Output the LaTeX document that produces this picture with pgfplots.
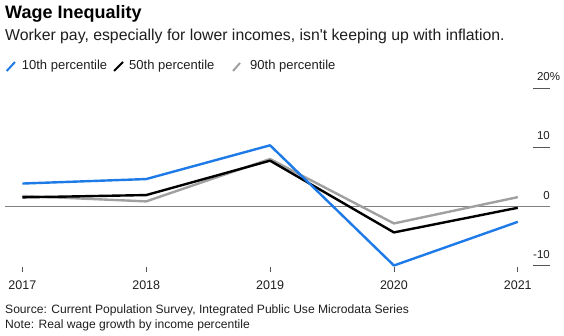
\documentclass[border=0pt]{standalone}
\usepackage{pgfplots}
\pgfplotsset{compat=1.18}
\usepackage{fontspec}
\setmainfont{Liberation Sans}
\definecolor{bblue}{RGB}{30,122,230}
\definecolor{bgray}{RGB}{160,160,160}
\definecolor{zline}{RGB}{128,128,128}
\definecolor{gline}{RGB}{85,85,85}
\definecolor{txt}{RGB}{30,30,30}
\begin{document}
\begin{tikzpicture}
\path[use as bounding box] (0pt,0pt) rectangle (564pt,336pt);
% titles
\node[anchor=base west,inner sep=0pt,font=\fontsize{18}{20}\selectfont\bfseries,text=black] at (5pt,317.5pt) {Wage Inequality};
\node[anchor=base west,inner sep=0pt,font=\fontsize{15.8}{18}\selectfont,text=txt] at (5pt,295pt) {Worker pay, especially for lower incomes, isn\textquotesingle t keeping up with inflation.};
% legend
\draw[bblue,line width=2pt] (6.7pt,265pt) -- (15pt,274pt);
\node[anchor=base west,inner sep=0pt,font=\fontsize{13}{15}\selectfont,text=txt] at (21.7pt,266pt) {10th percentile};
\draw[black,line width=2pt] (114pt,265pt) -- (123pt,274pt);
\node[anchor=base west,inner sep=0pt,font=\fontsize{13}{15}\selectfont,text=txt] at (129pt,266pt) {50th percentile};
\draw[bgray,line width=2pt] (233pt,265pt) -- (240pt,273pt);
\node[anchor=base west,inner sep=0pt,font=\fontsize{13}{15}\selectfont,text=txt] at (250pt,266pt) {90th percentile};
% footnotes
\node[anchor=base west,inner sep=0pt,font=\fontsize{12.1}{14}\selectfont,text=txt] at (5pt,22pt) {Source: Current Population Survey, Integrated Public Use Microdata Series};
\node[anchor=base west,inner sep=0pt,font=\fontsize{12.1}{14}\selectfont,text=txt] at (5pt,7pt) {Note: Real wage growth by income percentile};
\begin{axis}[
  at={(5pt,64.4pt)}, anchor=south west,
  scale only axis, width=545pt, height=183.2pt,
  xmin=2016.86, xmax=2021.26, ymin=-11, ymax=20,
  axis line style={draw=none},
  xtick={2017,2018,2019,2020,2021},
  xticklabels={2017,2018,2019,2020,2021},
  xtick pos=bottom, tick align=inside,
  major tick length=5pt,
  xtick style={draw=gline,line width=0.8pt},
  xticklabel style={anchor=base,inner sep=0pt,yshift=-17.9pt,font=\fontsize{12.5}{14}\selectfont,text=txt},
  ytick=\empty,
  clip=false,
]
\draw[zline,line width=0.9pt] (axis cs:2016.86,0) -- (axis cs:2021.26,0);
\draw[gline,line width=1pt] (axis cs:2021.125,-10) -- (axis cs:2021.26,-10);
\draw[gline,line width=1pt] (axis cs:2021.125,10) -- (axis cs:2021.26,10);
\draw[gline,line width=1pt] (axis cs:2021.125,20) -- (axis cs:2021.26,20);
\node[anchor=base east,inner sep=0pt,font=\fontsize{11.5}{13}\selectfont,text=txt,yshift=7.5pt] at (axis cs:2021.26,20) {20\rlap{\%}};
\node[anchor=base east,inner sep=0pt,font=\fontsize{11.5}{13}\selectfont,text=txt,yshift=7.5pt] at (axis cs:2021.26,10) {10};
\node[anchor=base east,inner sep=0pt,font=\fontsize{11.5}{13}\selectfont,text=txt,yshift=7.5pt] at (axis cs:2021.26,0) {0};
\node[anchor=base east,inner sep=0pt,font=\fontsize{11.5}{13}\selectfont,text=txt,yshift=7.5pt] at (axis cs:2021.26,-10) {-10};
\addplot[bgray,line width=2.4pt,line join=round] coordinates {(2017,1.8) (2018,0.88) (2019,8.05) (2020,-2.85) (2021,1.6)};
\addplot[black,line width=2.4pt,line join=round] coordinates {(2017,1.56) (2018,1.95) (2019,7.77) (2020,-4.37) (2021,-0.2)};
\addplot[bblue,line width=2.4pt,line join=round] coordinates {(2017,3.9) (2018,4.66) (2019,10.37) (2020,-9.97) (2021,-2.58)};
\end{axis}
\end{tikzpicture}
\end{document}
